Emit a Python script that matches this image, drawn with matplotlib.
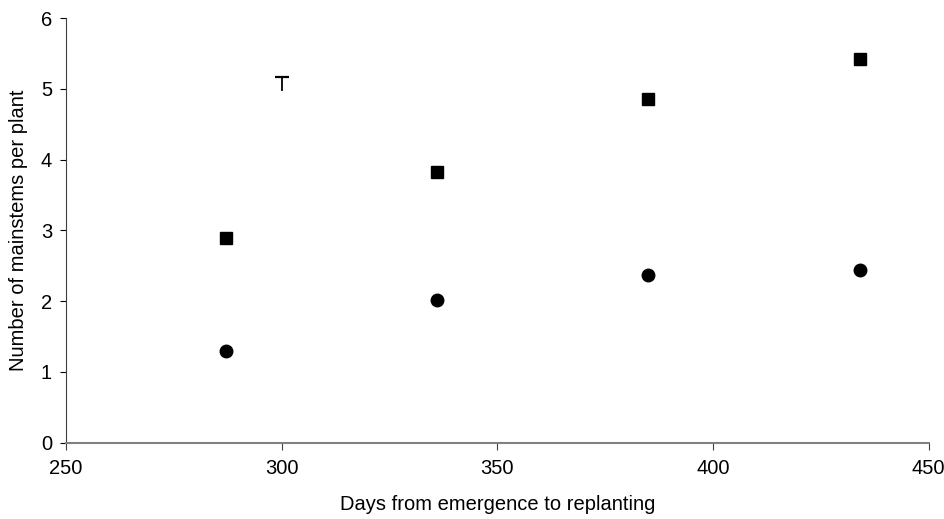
import matplotlib
matplotlib.use("Agg")
import matplotlib.pyplot as plt

plt.rcParams['font.family'] = ['Liberation Sans', 'DejaVu Sans']

days = [287, 336, 385, 434]
squares = [2.90, 3.83, 4.86, 5.42]
circles = [1.29, 2.01, 2.37, 2.44]
lsd_x = 300
lsd_low = 4.98
lsd_high = 5.17

fig = plt.figure(figsize=(9.45, 5.19), dpi=100)
ax = fig.add_axes([0.0698, 0.147, 0.913, 0.818])

ax.plot(days, squares, linestyle='none', marker='s', markersize=8.5, color='black')
ax.plot(days, circles, linestyle='none', marker='o', markersize=9, color='black')
ax.plot([lsd_x, lsd_x], [lsd_low, lsd_high], color='black', lw=1.3)
ax.plot([lsd_x], [lsd_high], marker='_', markersize=10, mew=1.6, color='black')

ax.set_xlim(250, 450)
ax.set_ylim(0, 6)
ax.set_xticks([250, 300, 350, 400, 450])
ax.set_yticks([0, 1, 2, 3, 4, 5, 6])
for s in ['top', 'right']:
    ax.spines[s].set_visible(False)
ax.spines['bottom'].set_color('#808080')
ax.spines['bottom'].set_linewidth(1.5)
ax.spines['left'].set_color('#404040')
ax.tick_params(axis='both', direction='out', labelsize=14.5)
ax.tick_params(axis='y', length=4, pad=6)
ax.tick_params(axis='x', length=5, pad=7, colors='#404040', labelcolor='black')
ax.set_xlabel('Days from emergence to replanting', fontsize=14.5, labelpad=12)
ax.set_ylabel('Number of mainstems per plant', fontsize=14.5, labelpad=9)

fig.savefig('out.png', dpi=100)
